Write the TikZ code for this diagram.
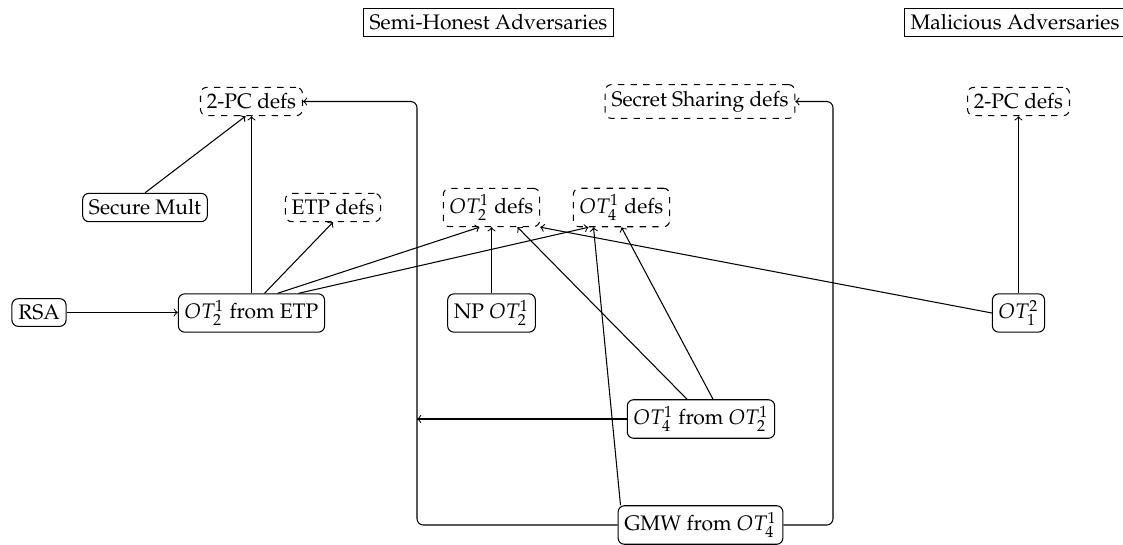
\documentclass[tikz,border=0pt]{standalone}
\usepackage[T1]{fontenc}
\usepackage{mathpazo}
\usetikzlibrary{calc}
\begin{document}
\begin{tikzpicture}[x=0.475pt,y=-0.475pt,
  every node/.style={inner sep=3pt},
  hdr/.style={draw,rectangle,line width=0.5pt},
  defsbox/.style={draw,dashed,rounded corners=3pt,line width=0.5pt},
  blk/.style={draw,rounded corners=3pt,line width=0.5pt},
  arr/.style={->,line width=0.5pt}]
\useasboundingbox (0,0) rectangle (1123,544);

% section headers
\node[hdr] (semi) at (488.5,22.5) {Semi-Honest Adversaries};
\node[hdr] (mal)  at (1015,22.5) {Malicious Adversaries};

% definitions
\node[defsbox] (pcl) at (251.5,101.5) {2-PC defs};
\node[defsbox] (ssd) at (700,101.5) {Secret Sharing defs};
\node[defsbox] (pcr) at (1018.5,101.5) {2-PC defs};
\node[defsbox] (etpd) at (333,207.5) {ETP defs};
\node[defsbox] (ottd) at (491.5,207.5) {$OT^1_2$ defs};
\node[defsbox] (otfd) at (621.5,207.5) {$OT^1_4$ defs};

% constructions
\node[blk] (sm)   at (145,207.5) {Secure Mult};
\node[blk] (rsa)  at (39,312.5) {RSA};
\node[blk] (ote)  at (251.5,313) {$OT^1_2$ from ETP};
\node[blk] (np)   at (491.5,313) {NP $OT^1_2$};
\node[blk] (otm)  at (1018.5,313) {$OT^2_1$};
\node[blk] (otf)  at (701,419) {$OT^1_4$ from $OT^1_2$};
\node[blk] (gmw)  at (700.5,525) {GMW from $OT^1_4$};

% bends of the routed connectors
\coordinate (lc) at (417,101.5);
\coordinate (rc) at (833,101.5);

\draw[arr] (sm.north) -- ($(pcl.south)+(-6,0)$);
\draw[arr] (ote.north) -- (pcl.south);
\draw[arr] (rsa.east) -- (rsa.east -| ote.west);
\draw[arr] ($(ote.north)+(13,0)$) -- (etpd.south);
\draw[arr] ($(ote.north)+(26,0)$) -- ($(ottd.south)+(-12,0)$);
\draw[arr] ($(ote.north)+(47,0)$) -- ($(otfd.south)+(-33,0)$);
\draw[arr] (np.north) -- (ottd.south);
\draw[arr] (otm.west) -- (ottd.south east);
\draw[arr] (otm.north) -- (pcr.south);
\draw[arr] ($(otf.north)+(-14,0)$) -- ($(ottd.south)+(26,0)$);
\draw[arr] ($(otf.north)+(12,0)$) -- (otfd.south);
\draw[arr] (otf.west) -- (otf.west -| lc);
\draw[arr] ($(gmw.north)+(-80,0)$) -- ($(otfd.south)+(-28,0)$);
\draw[arr,rounded corners=3pt] (gmw.west) -| (lc) -- (pcl.east);
\draw[arr,rounded corners=3pt] (gmw.east) -| (rc) -- (ssd.east);
\end{tikzpicture}
\end{document}
